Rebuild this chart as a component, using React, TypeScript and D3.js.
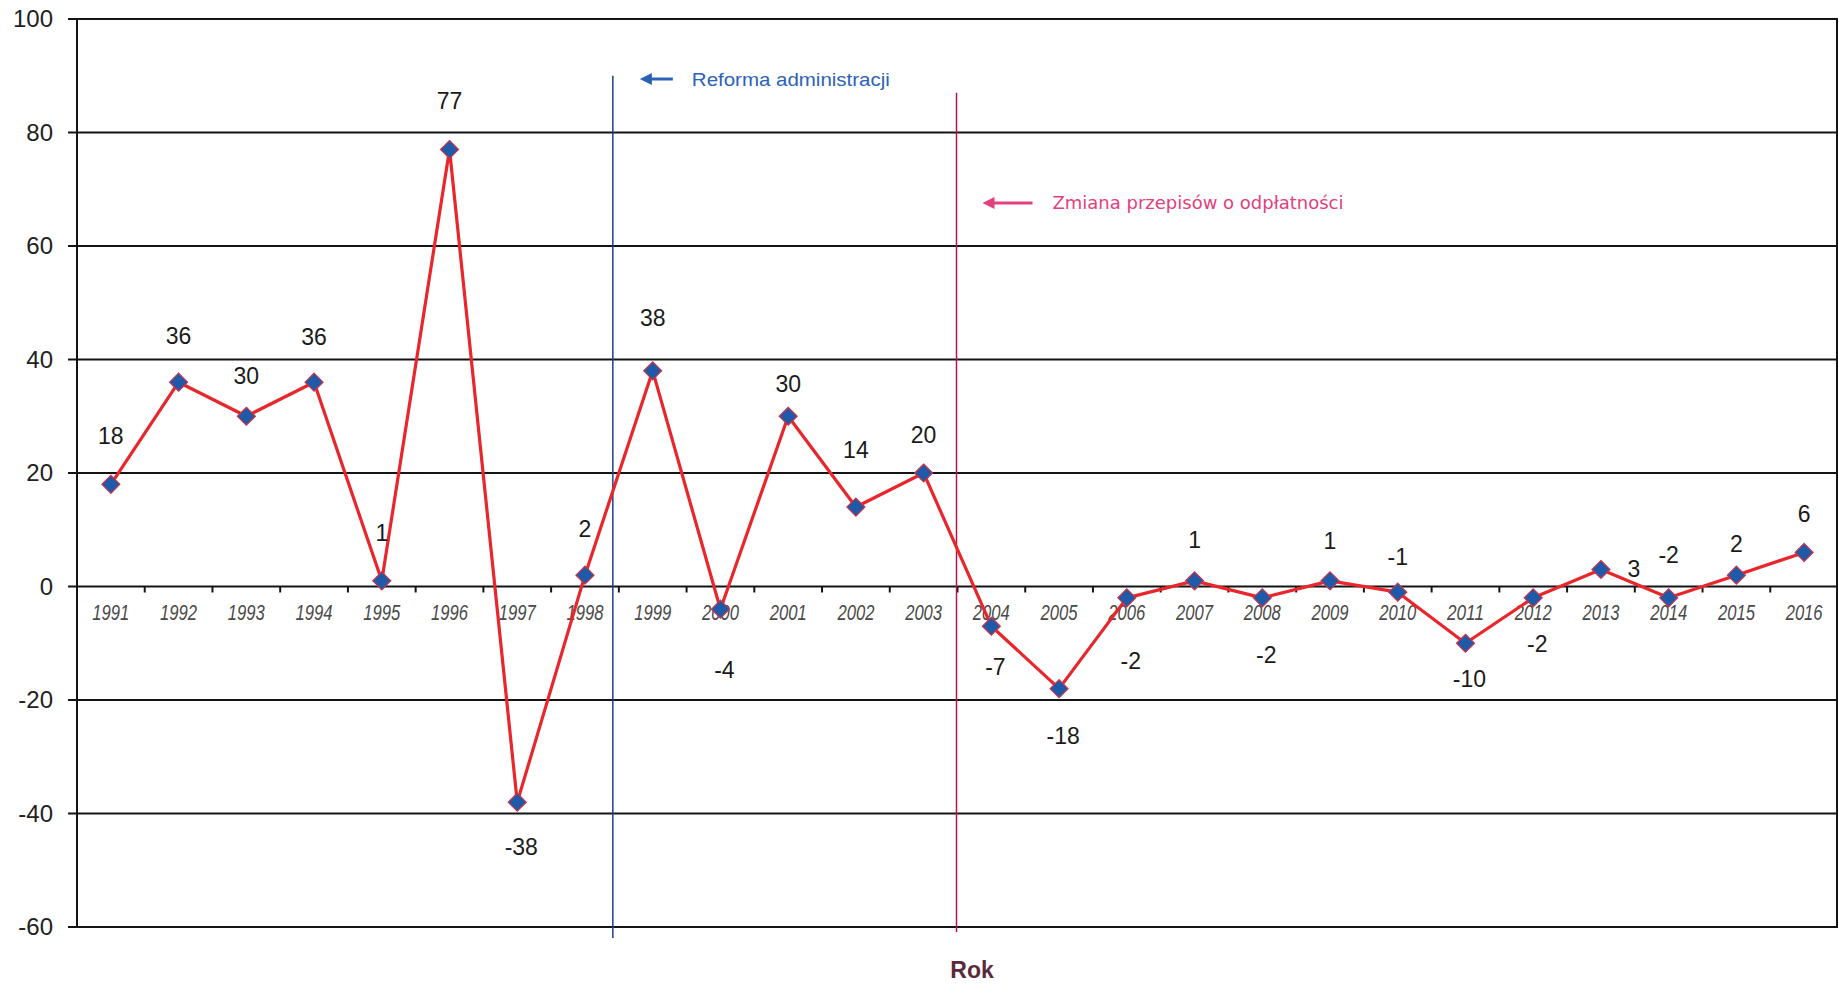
import { useEffect, useRef } from 'react';
import * as d3 from 'd3';

const years = [
  '1991', '1992', '1993', '1994', '1995', '1996', '1997', '1998', '1999', '2000',
  '2001', '2002', '2003', '2004', '2005', '2006', '2007', '2008', '2009', '2010',
  '2011', '2012', '2013', '2014', '2015', '2016',
];
const values = [18, 36, 30, 36, 1, 77, -38, 2, 38, -4, 30, 14, 20, -7, -18, -2, 1, -2, 1, -1, -10, -2, 3, -2, 2, 6];
const yTicks = [100, 80, 60, 40, 20, 0, -20, -40, -60];

// where each value label sits relative to its marker
const labelPlace = [
  'a', 'a', 'a', 'a', 'a', 'a', 'b', 'a', 'a', 'b',
  'a', 'a', 'a', 'b', 'b', 'b', 'a', 'b', 'a', 'a',
  'b', 'b', 'r', 'a', 'a', 'a',
];
const labelGap = [
  48, 46, 40, 45, 48, 49, 45, 46, 53, 61,
  32, 57, 38, 41, 47, 63, 41, 57, 40, 35,
  36, 46, 33, 43, 31, 38,
];

const events = [
  { after: '1998', label: 'Reforma administracji', color: '#2b62b8', line: '#1d3f86' },
  { after: '2003', label: 'Zmiana  przepisów o odpłatności', color: '#e2407c', line: '#b0184a' },
];

export default function App() {
  const svgRef = useRef<SVGSVGElement>(null);

  useEffect(() => {
    document.body.style.margin = '0';
    if (!svgRef.current) return;

    const W = 1839;
    const H = 984;
    const margin = { top: 19, right: 1, bottom: 57, left: 77 };
    const x0 = margin.left;
    const x1 = W - margin.right;
    const yTop = margin.top;
    const yBot = H - margin.bottom;

    const svg = d3.select(svgRef.current);
    svg.selectAll('*').remove();
    svg.attr('width', W).attr('height', H);

    svg.append('rect').attr('width', W).attr('height', H).attr('fill', '#fff');

    const x = d3.scaleBand().domain(years).range([x0, x1]);
    const y = d3.scaleLinear().domain([-60, 100]).range([yBot, yTop]);
    const cx = (d: string) => x(d)! + x.bandwidth() / 2;

    // gridlines
    svg
      .append('g')
      .selectAll('line')
      .data(yTicks)
      .enter()
      .append('line')
      .attr('x1', x0 - 9)
      .attr('x2', x1)
      .attr('y1', (d) => y(d))
      .attr('y2', (d) => y(d))
      .attr('stroke', '#141414')
      .attr('stroke-width', 2);

    svg
      .append('g')
      .selectAll('text')
      .data(yTicks)
      .enter()
      .append('text')
      .attr('x', 53)
      .attr('y', (d) => y(d) + 8)
      .attr('text-anchor', 'end')
      .attr('font-family', 'Liberation Sans, Arial, sans-serif')
      .attr('font-size', 24)
      .attr('fill', '#222')
      .text((d) => d);

    // frame
    svg.append('line').attr('x1', x0).attr('x2', x0).attr('y1', yTop).attr('y2', yBot)
      .attr('stroke', '#141414').attr('stroke-width', 2);
    svg.append('line').attr('x1', x1 - 1).attr('x2', x1 - 1).attr('y1', yTop).attr('y2', yBot)
      .attr('stroke', '#141414').attr('stroke-width', 2);

    // category ticks on zero line
    svg
      .append('g')
      .selectAll('line')
      .data(years.slice(1))
      .enter()
      .append('line')
      .attr('x1', (d) => x(d)!)
      .attr('x2', (d) => x(d)!)
      .attr('y1', y(0))
      .attr('y2', y(0) + 6)
      .attr('stroke', '#141414')
      .attr('stroke-width', 2);

    // year labels
    svg
      .append('g')
      .selectAll('text')
      .data(years)
      .enter()
      .append('text')
      .attr('x', (d) => cx(d))
      .attr('y', y(0) + 33)
      .attr('text-anchor', 'middle')
      .attr('font-family', 'Liberation Sans, Arial, sans-serif')
      .attr('font-style', 'italic')
      .attr('font-size', 22)
      .attr('textLength', 37)
      .attr('lengthAdjust', 'spacingAndGlyphs')
      .attr('fill', '#4a4a4a')
      .text((d) => d);

    // event lines
    const evX = (e: (typeof events)[number], nudge: number) =>
      x(years[years.indexOf(e.after) + 1])! + nudge;
    const ev0 = events[0];
    const ev1 = events[1];
    const bx = evX(ev0, -6);
    const px = evX(ev1, -1);
    svg.append('line').attr('x1', bx).attr('x2', bx)
      .attr('y1', y(90)).attr('y2', yBot + 11)
      .attr('stroke', ev0.line).attr('stroke-width', 1.5);
    svg.append('line').attr('x1', px).attr('x2', px)
      .attr('y1', y(87)).attr('y2', yBot + 5)
      .attr('stroke', ev1.line).attr('stroke-width', 1.5);

    const arrow = (xa: number, xb: number, yy: number, color: string) => {
      const g = svg.append('g');
      g.append('line').attr('x1', xa + 8).attr('x2', xb).attr('y1', yy).attr('y2', yy)
        .attr('stroke', color).attr('stroke-width', 3);
      g.append('path')
        .attr('d', `M${xa},${yy} L${xa + 12},${yy - 6} L${xa + 12},${yy + 6} Z`)
        .attr('fill', color);
    };

    arrow(bx + 27, bx + 60, 79, ev0.color);
    svg.append('text')
      .attr('x', bx + 79).attr('y', 86)
      .attr('font-family', 'Liberation Sans, Arial, sans-serif')
      .attr('font-size', 19)
      .attr('textLength', 198)
      .attr('lengthAdjust', 'spacingAndGlyphs')
      .attr('fill', ev0.color)
      .text(ev0.label);

    arrow(px + 26, px + 76, 203, ev1.color);
    svg.append('text')
      .attr('x', px + 96).attr('y', 209)
      .attr('font-family', 'DejaVu Sans, Verdana, sans-serif')
      .attr('font-size', 17)
      .attr('textLength', 291)
      .attr('lengthAdjust', 'spacingAndGlyphs')
      .attr('fill', ev1.color)
      .text(ev1.label);

    // series
    const pts = years.map((yr, i) => ({ yr, v: values[i], i }));
    const line = d3
      .line<(typeof pts)[number]>()
      .x((d) => cx(d.yr))
      .y((d) => y(d.v));

    svg.append('path')
      .datum(pts)
      .attr('d', line)
      .attr('fill', 'none')
      .attr('stroke', '#e8262b')
      .attr('stroke-width', 3.2)
      .attr('stroke-linejoin', 'round');

    svg
      .append('g')
      .selectAll('path')
      .data(pts)
      .enter()
      .append('path')
      .attr('d', 'M0,-9 L9,0 L0,9 L-9,0 Z')
      .attr('transform', (d) => `translate(${cx(d.yr)},${y(d.v)})`)
      .attr('fill', '#1f5aa8')
      .attr('stroke', '#c9334a')
      .attr('stroke-width', 1.2);

    // value labels
    svg
      .append('g')
      .selectAll('text')
      .data(pts)
      .enter()
      .append('text')
      .attr('x', (d) => cx(d.yr) + (labelPlace[d.i] === 'r' ? labelGap[d.i] : 0) + (labelPlace[d.i] === 'b' ? 4 : 0))
      .attr('y', (d) => {
        const p = labelPlace[d.i];
        const base = y(d.v) + 8;
        if (p === 'a') return base - labelGap[d.i];
        if (p === 'b') return base + labelGap[d.i];
        return base;
      })
      .attr('text-anchor', 'middle')
      .attr('font-family', 'Liberation Sans, Arial, sans-serif')
      .attr('font-size', 23)
      .attr('fill', '#1a1a1a')
      .text((d) => d.v);

    svg.append('text')
      .attr('x', 972).attr('y', 978)
      .attr('text-anchor', 'middle')
      .attr('font-family', 'Liberation Sans, Arial, sans-serif')
      .attr('font-weight', 700)
      .attr('font-size', 23)
      .attr('fill', '#5a2a3c')
      .text('Rok');
  }, []);

  return (
    <div style={{ position: 'absolute', left: 0, top: 0 }}>
      <svg ref={svgRef} role="img" aria-label="Zmiany roczne" />
    </div>
  );
}
